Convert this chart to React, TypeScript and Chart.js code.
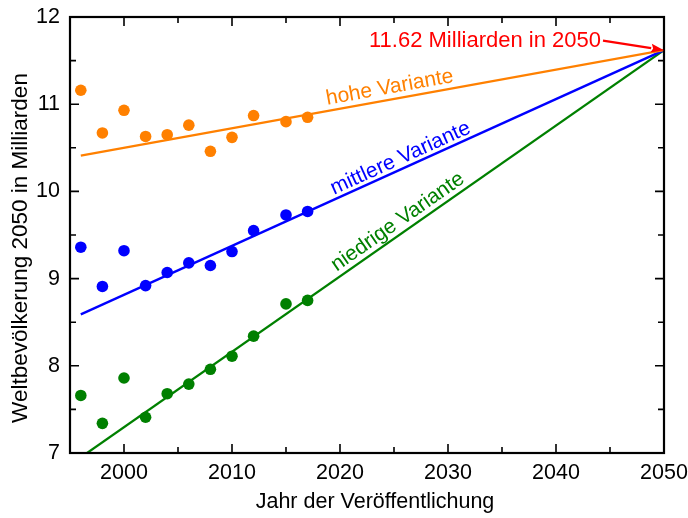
import React, { useEffect, useRef } from "react";
import { Chart, registerables } from "chart.js";

Chart.register(...registerables);

// ---- data ----
const years = [1996, 1998, 2000, 2002, 2004, 2006, 2008, 2010, 2012, 2015, 2017];
const highValues = [11.16, 10.67, 10.93, 10.63, 10.65, 10.76, 10.46, 10.62, 10.87, 10.8, 10.85];
const mediumValues = [9.36, 8.91, 9.32, 8.92, 9.07, 9.18, 9.15, 9.31, 9.55, 9.73, 9.77];
const lowValues = [7.66, 7.34, 7.86, 7.41, 7.68, 7.79, 7.96, 8.11, 8.34, 8.71, 8.75];
const trendYears = [1996, 2050];
const highTrend = [10.41, 11.62];
const mediumTrend = [8.59, 11.62];
const lowTrend = [6.95, 11.62];
const xTickValues = [2000, 2010, 2020, 2030, 2040, 2050];
const yTickValues = [7, 8, 9, 10, 11, 12];
const targetYear = 2050;
const targetValue = 11.62;
const annotationText = "11.62 Milliarden in 2050";
const seriesLabels = ["hohe Variante", "mittlere Variante", "niedrige Variante"];
const xTitle = "Jahr der Veröffentlichung";
const yTitle = "Weltbevölkerung 2050 in Milliarden";

const ORANGE = "rgb(255,128,0)";
const BLUE = "rgb(0,0,255)";
const GREEN = "rgb(0,128,0)";
const RED = "rgb(255,0,0)";
const FONT = "'Liberation Sans', Arial, sans-serif";

const toPts = (xs: number[], ys: number[]) => xs.map((x, i) => ({ x, y: ys[i] }));

const decorPlugin = {
  id: "decor",
  afterDraw(chart: any) {
    const ctx = chart.ctx as CanvasRenderingContext2D;
    const { left, right, top, bottom } = chart.chartArea;
    const xs = chart.scales.x;
    const ys = chart.scales.y;
    ctx.save();
    // frame
    ctx.strokeStyle = "#000";
    ctx.lineWidth = 2.2;
    ctx.strokeRect(left, top, right - left, bottom - top);
    // ticks
    ctx.lineWidth = 1.6;
    ctx.beginPath();
    for (let v = xs.min; v <= xs.max + 1e-6; v += 5) {
      const px = xs.getPixelForValue(v);
      const len = v % 10 === 0 ? 9 : 6;
      ctx.moveTo(px, bottom);
      ctx.lineTo(px, bottom - len);
      ctx.moveTo(px, top);
      ctx.lineTo(px, top + len);
    }
    for (let v = ys.min; v <= ys.max + 1e-6; v += 0.5) {
      const py = ys.getPixelForValue(v);
      const len = Math.abs(v - Math.round(v)) < 1e-6 ? 9 : 6;
      ctx.moveTo(left, py);
      ctx.lineTo(left + len, py);
      ctx.moveTo(right, py);
      ctx.lineTo(right - len, py);
    }
    ctx.stroke();

    // axis titles
    ctx.fillStyle = "#000";
    ctx.font = `21.5px ${FONT}`;
    ctx.textAlign = "center";
    ctx.textBaseline = "middle";
    ctx.fillText(xTitle, 375, 502);
    ctx.save();
    ctx.translate(21, 248);
    ctx.rotate(-Math.PI / 2);
    ctx.font = `22.5px ${FONT}`;
    ctx.fillText(yTitle, 0, 0);
    ctx.restore();

    // series labels along the trend lines
    const trends = [highTrend, mediumTrend, lowTrend];
    const colors = [ORANGE, BLUE, GREEN];
    const centers = [
      [2024.6, 11.19],
      [2025.6, 10.38],
      [2025.35, 9.65],
    ];
    ctx.font = `21px ${FONT}`;
    trends.forEach((t, i) => {
      const x0 = xs.getPixelForValue(trendYears[0]);
      const y0 = ys.getPixelForValue(t[0]);
      const x1 = xs.getPixelForValue(trendYears[1]);
      const y1 = ys.getPixelForValue(t[1]);
      const ang = Math.atan2(y1 - y0, x1 - x0);
      ctx.save();
      ctx.translate(xs.getPixelForValue(centers[i][0]), ys.getPixelForValue(centers[i][1]));
      ctx.rotate(ang);
      ctx.fillStyle = colors[i];
      ctx.fillText(seriesLabels[i], 0, 0);
      ctx.restore();
    });

    // annotation with arrow
    const tx = xs.getPixelForValue(targetYear);
    const ty = ys.getPixelForValue(targetValue);
    const sx = xs.getPixelForValue(2044.35);
    const sy = ys.getPixelForValue(11.73);
    ctx.fillStyle = RED;
    ctx.strokeStyle = RED;
    ctx.font = `22px ${FONT}`;
    ctx.textAlign = "right";
    ctx.fillText(annotationText, sx - 2, sy);
    const a = Math.atan2(ty - sy, tx - sx);
    const headLen = 13;
    const hx = tx - headLen * Math.cos(a);
    const hy = ty - headLen * Math.sin(a);
    ctx.lineWidth = 2.2;
    ctx.beginPath();
    ctx.moveTo(sx, sy);
    ctx.lineTo(hx, hy);
    ctx.stroke();
    ctx.beginPath();
    ctx.moveTo(tx, ty);
    ctx.lineTo(hx + 4.5 * Math.sin(a), hy - 4.5 * Math.cos(a));
    ctx.lineTo(hx + 2 * Math.cos(a), hy + 2 * Math.sin(a));
    ctx.lineTo(hx - 4.5 * Math.sin(a), hy + 4.5 * Math.cos(a));
    ctx.closePath();
    ctx.fill();
    ctx.restore();
  },
};

export default function App() {
  const ref = useRef<HTMLCanvasElement | null>(null);
  useEffect(() => {
    if (!ref.current) return;
    const pointDs = (vals: number[], color: string) => ({
      type: "scatter" as const,
      data: toPts(years, vals),
      backgroundColor: color,
      borderColor: color,
      pointRadius: 5.8,
      pointBorderWidth: 0,
      pointHoverRadius: 5.8,
      showLine: false,
      order: 0,
    });
    const lineDs = (vals: number[], color: string, order: number) => ({
      type: "line" as const,
      data: toPts(trendYears, vals),
      borderColor: color,
      backgroundColor: color,
      borderWidth: 2.3,
      pointRadius: 0,
      fill: false,
      order,
    });
    const tickFont = { family: FONT, size: 21.5 };
    const chart = new Chart(ref.current, {
      type: "scatter",
      data: {
        datasets: [
          pointDs(highValues, ORANGE),
          pointDs(mediumValues, BLUE),
          pointDs(lowValues, GREEN),
          lineDs(highTrend, ORANGE, 1),
          lineDs(mediumTrend, BLUE, 2),
          lineDs(lowTrend, GREEN, 3),
        ] as any,
      },
      options: {
        animation: false,
        responsive: false,
        layout: { padding: { top: 17, right: 24, left: 0, bottom: 0 } },
        plugins: { legend: { display: false }, tooltip: { enabled: false } },
        scales: {
          x: {
            type: "linear",
            min: 1995,
            max: 2050,
            afterBuildTicks: (s: any) => {
              s.ticks = xTickValues.map((v) => ({ value: v }));
            },
            afterFit: (s: any) => {
              s.height = 65;
              s.paddingLeft = 0;
              s.paddingRight = 0;
            },
            ticks: {
              font: tickFont,
              color: "#000",
              padding: 7,
              maxRotation: 0,
              autoSkip: false,
              callback: (v: any) => String(v),
            },
            grid: { display: false, drawTicks: false },
            border: { display: false },
          },
          y: {
            type: "linear",
            min: 7,
            max: 12,
            afterBuildTicks: (s: any) => {
              s.ticks = yTickValues.map((v) => ({ value: v }));
            },
            afterFit: (s: any) => {
              s.width = 70;
              s.paddingTop = 0;
              s.paddingBottom = 0;
            },
            ticks: {
              font: tickFont,
              color: "#000",
              padding: 10,
              autoSkip: false,
              callback: (v: any) => String(v),
            },
            grid: { display: false, drawTicks: false },
            border: { display: false },
          },
        },
      },
      plugins: [decorPlugin],
    });
    return () => chart.destroy();
  }, []);
  return (
    <div style={{ position: "absolute", left: 0, top: 0, width: 688, height: 518, background: "#fff" }}>
      <canvas ref={ref} width={688} height={518} style={{ display: "block" }} />
    </div>
  );
}
